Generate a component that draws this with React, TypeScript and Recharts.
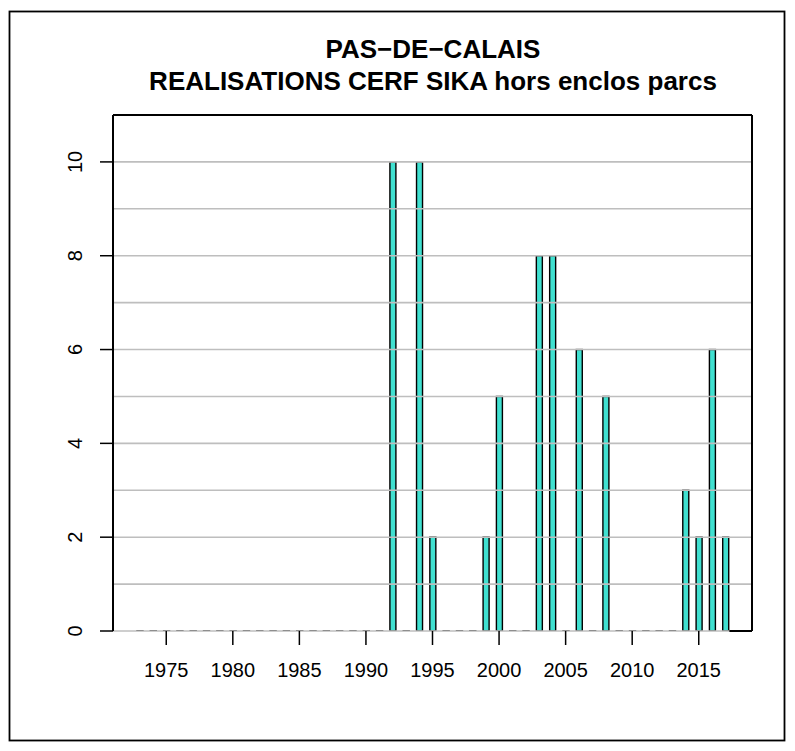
import React from "react";
import { BarChart, Bar, XAxis, YAxis, ReferenceLine } from "recharts";

const TITLE_LINE_1 = "PAS\u2212DE\u2212CALAIS";
const TITLE_LINE_2 = "REALISATIONS CERF SIKA hors enclos parcs";

const years = [
  1973, 1974, 1975, 1976, 1977, 1978, 1979, 1980, 1981, 1982,
  1983, 1984, 1985, 1986, 1987, 1988, 1989, 1990, 1991, 1992,
  1993, 1994, 1995, 1996, 1997, 1998, 1999, 2000, 2001, 2002,
  2003, 2004, 2005, 2006, 2007, 2008, 2009, 2010, 2011, 2012,
  2013, 2014, 2015, 2016, 2017,
];
const realisations = [
  0, 0, 0, 0, 0, 0, 0, 0, 0, 0,
  0, 0, 0, 0, 0, 0, 0, 0, 0, 10,
  0, 10, 2, 0, 0, 0, 2, 5, 0, 0,
  8, 8, 0, 6, 0, 5, 0, 0, 0, 0,
  0, 3, 2, 6, 2,
];
const xTicks = [1975, 1980, 1985, 1990, 1995, 2000, 2005, 2010, 2015];
const yTicks = [0, 2, 4, 6, 8, 10];
const gridValues = [0, 1, 2, 3, 4, 5, 6, 7, 8, 9, 10];
const xDomain = [1971, 2019];
const yDomain = [0, 11];

const data = years.map((y, i) => ({ year: y, value: realisations[i] }));

const FONT = "'Liberation Sans', Arial, Helvetica, sans-serif";

const BarShape = (props: any) => {
  const { x, y, width, height, value, payload } = props;
  const v = payload && typeof payload.value === "number" ? payload.value : value;
  if (!v) {
    const base = y + (height || 0);
    return (
      <line x1={x - 0.7} x2={x + width + 0.7} y1={base} y2={base} stroke="#000" strokeWidth={2} />
    );
  }
  return (
    <rect
      x={x}
      y={y}
      width={width}
      height={Math.max(0, height)}
      fill="#40E0D0"
      stroke="#000"
      strokeWidth={1.4}
    />
  );
};

const YTick = (props: any) => {
  const { x, y, payload } = props;
  return (
    <text
      x={x}
      y={y}
      transform={`rotate(-90, ${x}, ${y})`}
      textAnchor="middle"
      fontSize={20}
      fontFamily={FONT}
      fill="#000"
    >
      {payload.value}
    </text>
  );
};

const lastYear = years[years.length - 1];

export default function App() {
  return (
    <div style={{ position: "absolute", left: 0, top: 0, width: 795, height: 751, background: "#fff" }}>
      <BarChart
        width={795}
        height={751}
        data={data}
        margin={{ top: 115, right: 43, bottom: 0, left: 13 }}
      >
        <XAxis
          dataKey="year"
          type="number"
          domain={xDomain}
          ticks={xTicks}
          interval={0}
          allowDataOverflow
          axisLine={false}
          tickLine={{ stroke: "#000", strokeWidth: 1.5 }}
          tickSize={14}
          tickMargin={18}
          height={120}
          tick={{ fontSize: 20, fill: "#000", fontFamily: FONT }}
        />
        <YAxis
          type="number"
          domain={yDomain}
          ticks={yTicks}
          interval={0}
          allowDataOverflow
          axisLine={false}
          tickLine={{ stroke: "#000", strokeWidth: 1.5 }}
          tickSize={13}
          tickMargin={18}
          width={100}
          tick={<YTick />}
        />
        {gridValues.map((g) => (
          <ReferenceLine key={g} y={g} stroke="#bebebe" strokeWidth={1.6} />
        ))}
        <ReferenceLine y={yDomain[1]} stroke="#000" strokeWidth={2} />
        <ReferenceLine x={xDomain[0]} stroke="#000" strokeWidth={2} />
        <ReferenceLine x={xDomain[1]} stroke="#000" strokeWidth={2} />
        <ReferenceLine
          segment={[
            { x: lastYear + 0.3, y: yDomain[0] },
            { x: xDomain[1], y: yDomain[0] },
          ]}
          stroke="#000"
          strokeWidth={2}
        />
        <Bar dataKey="value" barSize={6} minPointSize={0.5} shape={BarShape} isAnimationActive={false} />
      </BarChart>
      <svg
        width={795}
        height={751}
        style={{ position: "absolute", left: 0, top: 0, pointerEvents: "none" }}
      >
        <rect x={9.5} y={11.5} width={775} height={729} fill="none" stroke="#000" strokeWidth={1.8} />
        <text x={433} y={57.5} textAnchor="middle" fontSize={26} fontWeight="bold" fontFamily={FONT} fill="#000">
          {TITLE_LINE_1}
        </text>
        <text x={433} y={89.5} textAnchor="middle" fontSize={26} fontWeight="bold" fontFamily={FONT} fill="#000">
          {TITLE_LINE_2}
        </text>
      </svg>
    </div>
  );
}
